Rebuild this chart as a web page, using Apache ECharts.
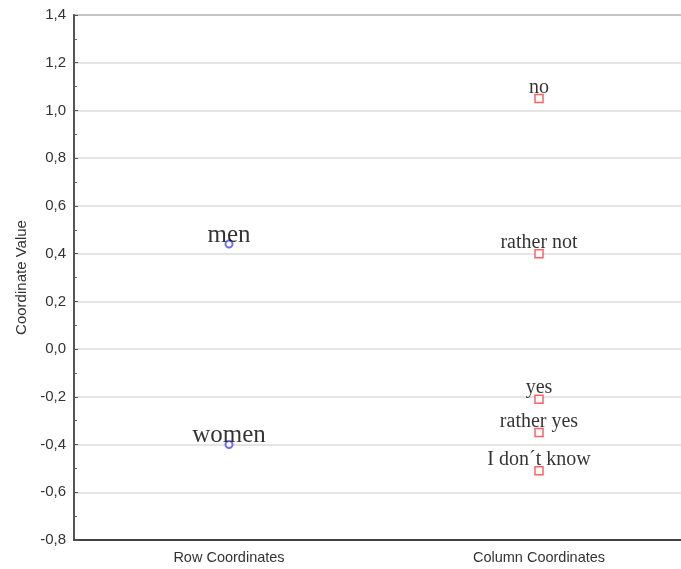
<!DOCTYPE html>
<html>
<head>
<meta charset="utf-8">
<script src="https://cdn.jsdelivr.net/npm/echarts@6/dist/echarts.min.js"></script>
<style>
  html, body { margin: 0; padding: 0; background: #fff; overflow: hidden; }
  /* the plot frame runs a little past the right edge of the window */
  #chart { width: 694px; height: 569px; }
</style>
</head>
<body>
<div id="chart"></div>
<script>
// Correspondence analysis: row and column coordinates on dimension 1
const categories = ['Row Coordinates', 'Column Coordinates'];

const rowLabels = ['men', 'women'];
const rowValues = [0.44, -0.40];

const colLabels = ['no', 'rather not', 'yes', 'rather yes', 'I don\u00b4t know'];
const colValues = [1.05, 0.40, -0.21, -0.35, -0.51];

const yTicks = [-0.8, -0.6, -0.4, -0.2, 0.0, 0.2, 0.4, 0.6, 0.8, 1.0, 1.2, 1.4];

const fmt = v => v.toFixed(1).replace('.', ',');

const sans = 'Arial, "Liberation Sans", sans-serif';

const chart = echarts.init(document.getElementById('chart'), null, { renderer: 'canvas' });

const serifLabel = (size, dy) => ({
  show: true,
  position: 'inside',
  formatter: p => p.data.name,
  fontFamily: '"Liberation Serif", "Times New Roman", serif',
  fontSize: size,
  color: '#000',
  align: 'center',
  verticalAlign: 'middle',
  offset: [0, dy]
});

chart.setOption({
  animation: false,
  backgroundColor: '#fff',
  grid: {
    left: 74, top: 15, right: 0, bottom: 29,
    show: true, borderColor: '#555', borderWidth: 1.5, backgroundColor: 'transparent'
  },
  xAxis: {
    type: 'category',
    data: categories,
    boundaryGap: true,
    axisLine: { onZero: false, lineStyle: { color: '#444', width: 2 } },
    axisTick: { show: false },
    axisLabel: { fontFamily: sans, fontSize: 14.5, color: '#333', margin: 10 }
  },
  yAxis: {
    type: 'value',
    min: yTicks[0],
    max: yTicks[yTicks.length - 1],
    interval: 0.2,
    name: 'Coordinate Value',
    nameLocation: 'middle',
    nameGap: 44,
    nameTextStyle: { fontFamily: sans, fontSize: 15, color: '#333' },
    axisLine: { show: true, lineStyle: { color: '#555', width: 2 } },
    axisTick: { show: true, inside: true, length: 4, lineStyle: { color: '#555' } },
    minorTick: { show: true, splitNumber: 2, length: 3, lineStyle: { color: '#666' } },
    axisLabel: {
      formatter: v => fmt(v),
      fontFamily: sans,
      fontSize: 15,
      color: '#333',
      margin: 8
    },
    splitLine: { show: true, lineStyle: { color: '#dcdcdc', width: 1.5 } }
  },
  series: [
    {
      name: 'Row',
      type: 'scatter',
      symbol: 'emptyCircle',
      symbolSize: 7,
      itemStyle: { color: '#4a4aff', borderColor: '#4a4aff', borderWidth: 1.5 },
      label: serifLabel(25, -9),
      data: rowValues.map((v, i) => ({ name: rowLabels[i], value: [categories[0], v] }))
    },
    {
      name: 'Column',
      type: 'scatter',
      symbol: 'rect',
      symbolSize: 8,
      itemStyle: { color: '#fff', borderColor: '#ff3b3b', borderWidth: 1.5 },
      label: serifLabel(20, -11),
      data: colValues.map((v, i) => ({ name: colLabels[i], value: [categories[1], v] }))
    }
  ]
});
</script>
</body>
</html>
